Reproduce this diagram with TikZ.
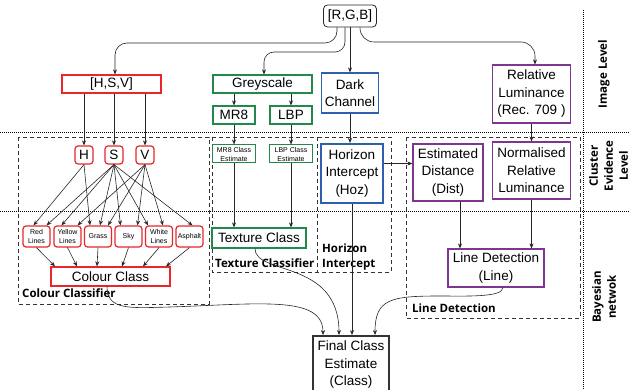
\documentclass[tikz,border=0pt]{standalone}
\usepackage{fontspec}
\setmainfont{Liberation Sans}
\newfontfamily\lblfont{Open Sans}
\usetikzlibrary{arrows.meta}
\definecolor{clred}{HTML}{E8262B}
\definecolor{clgreen}{HTML}{23894A}
\definecolor{clblue}{HTML}{2F5FAE}
\definecolor{clpurple}{HTML}{7E3693}
\tikzset{
  every node/.style={inner sep=0pt, align=center, font=\fontsize{13.5}{17.5}\selectfont},
  arr/.style={draw=black!85, line width=0.6pt, -{Stealth[length=5pt,width=4pt]}},
  levelsep/.style={draw=black, line width=0.9pt, dash pattern=on 1pt off 1pt},
  cluster/.style={draw=black!80, line width=0.8pt, dash pattern=on 4pt off 3pt},
  clusterlbl/.style={font=\lblfont\bfseries\fontsize{11.5}{15}\selectfont, align=left},
  levellbl/.style={font=\lblfont\bfseries\fontsize{11.5}{15}\selectfont, rotate=90},
  redbox/.style={draw=clred, line width=1.2pt},
  redround/.style={redbox, rounded corners=3pt},
  classbox/.style={redround, minimum width=27pt, minimum height=21pt, font=\fontsize{7}{9}\selectfont},
  greenbox/.style={draw=clgreen, line width=1.2pt},
  smallgreen/.style={greenbox, line width=1pt, minimum width=43pt, minimum height=18pt, font=\fontsize{7}{9}\selectfont},
  bluebox/.style={draw=clblue, line width=1.2pt},
  purplebox/.style={draw=clpurple, line width=1.2pt}
}
\begin{document}
\begin{tikzpicture}[x=1pt,y=-1pt]
\useasboundingbox (0,0) rectangle (630,390);
\clip (0,0) rectangle (630,390);
% levels
\draw[levelsep] (0,132) -- (630,132);
\draw[levelsep] (0,211) -- (630,211);
\draw[levelsep] (583,10) -- (583,390);
\node[levellbl] (imglvl) at (604,74) {Image Level};
\node[levellbl] (evlvl) at (608.5,166) {Cluster\\Evidence\\Level};
\node[levellbl] (baylvl) at (604,297) {Bayesian\\netwok};
% clusters
\draw[cluster] (18,137) rectangle (209,304);
\draw[cluster] (212,137) rectangle (317,272);
\draw[cluster] (317,137) rectangle (391,272);
\draw[cluster] (406,137) rectangle (580,318);
\node[clusterlbl, anchor=west] (cclbl) at (22,293) {Colour Classifier};
\node[clusterlbl, anchor=west] (texlbl) at (215,263) {Texture Classifier};
\node[clusterlbl, anchor=west] (hozlbl) at (322,257) {Horizon\\Intercept};
\node[clusterlbl, anchor=west] (linelbl) at (412,308) {Line Detection};
% image level
\node[draw=black!85, line width=0.8pt, rounded corners=4pt, minimum width=53pt, minimum height=22pt] (rgb) at (350,16) {[R,G,B]};
\node[redbox, minimum width=99pt, minimum height=18pt] (hsv) at (111.5,84) {[H,S,V]};
\node[greenbox, minimum width=99pt, minimum height=18pt] (grey) at (262.5,84) {Greyscale};
\node[greenbox, minimum width=42pt, minimum height=18pt] (mr8) at (234,115) {MR8};
\node[greenbox, minimum width=42pt, minimum height=18pt] (lbp) at (291,115) {LBP};
\node[bluebox, minimum width=57pt, minimum height=40pt] (dark) at (350,93) {Dark\\Channel};
\node[purplebox, minimum width=78pt, minimum height=58pt] (rellum) at (531.5,94) {Relative\\Luminance\\(Rec. 709 )};
% cluster evidence level
\node[redround, minimum width=18pt, minimum height=18pt] (h) at (84,155) {H};
\node[redround, minimum width=18pt, minimum height=18pt] (s) at (114,155) {S};
\node[redround, minimum width=18pt, minimum height=18pt] (v) at (145,155) {V};
\node[smallgreen] (mr8e) at (234,154) {MR8 Class\\Estimate};
\node[smallgreen] (lbpe) at (291,154) {LBP Class\\Estimate};
\node[bluebox, line width=2pt, minimum width=62pt, minimum height=59pt] (hoz) at (352,173.5) {Horizon\\Intercept\\(Hoz)};
\node[purplebox, minimum width=70pt, minimum height=57pt] (dist) at (448,172.5) {Estimated\\Distance\\(Dist)};
\node[purplebox, minimum width=78pt, minimum height=57pt] (nrl) at (531.5,170.5) {Normalised\\Relative\\Luminance};
% bayesian network
\node[classbox] (red) at (36.5,236.5) {Red\\Lines};
\node[classbox] (yellow) at (67.5,236.5) {Yellow\\Lines};
\node[classbox] (grass) at (98,236.5) {Grass};
\node[classbox] (sky) at (128.5,236.5) {Sky};
\node[classbox] (white) at (159,236.5) {White\\Lines};
\node[classbox] (asphalt) at (189.5,236.5) {Asphalt};
\node[redbox, minimum width=119pt, minimum height=19pt] (cc) at (110.5,276.5) {Colour Class};
\node[greenbox, minimum width=94pt, minimum height=20pt] (tex) at (259,238) {Texture Class};
\node[purplebox, minimum width=96pt, minimum height=38pt] (linedet) at (496,268) {Line Detection\\(Line)};
\node[draw=black!80, line width=1.8pt, minimum width=76pt, minimum height=58pt] (fin) at (351,365) {Final Class\\Estimate\\(Class)};
\coordinate (hsvin) at ([xshift=3.5pt]hsv.north);
\coordinate (greyin) at ([xshift=1.5pt]grey.north);
\coordinate (lumin) at ([xshift=3.5pt]rellum.north);
\coordinate (bendA) at (0,43);
\coordinate (bendB) at (0,52);
\coordinate (bendC) at (0,42);
\coordinate (hozout) at ([yshift=10pt]hoz.east);
\coordinate (distout) at ([xshift=12pt]dist.south);
\coordinate (ccmid) at (170,307);
\coordinate (linemid) at (440,296);
\draw[arr, rounded corners=12pt] ([xshift=-13pt]rgb.south) |- (hsvin |- bendA) -- (hsvin);
\draw[arr, rounded corners=10pt] ([xshift=-5pt]rgb.south) |- (greyin |- bendB) -- (greyin);
\draw[arr] (rgb.south -| dark.north) -- (dark.north);
\draw[arr, rounded corners=14pt] ([xshift=10pt]rgb.south) |- (lumin |- bendC) -- (lumin);
\draw[arr] (h |- hsv.south) -- (h.north);
\draw[arr] (s |- hsv.south) -- (s.north);
\draw[arr] (v |- hsv.south) -- (v.north);
\draw[arr] (h.south) -- ([xshift=-3pt]red.north);
\draw[arr] (h.south) -- ([xshift=-8pt]grass.north);
\draw[arr] (s.south) -- ([xshift=10pt]red.north);
\draw[arr] (s.south) -- ([xshift=-6pt]yellow.north);
\draw[arr] (s.south) -- ([xshift=2pt]grass.north);
\draw[arr] (s.south) -- ([xshift=-8pt]sky.north);
\draw[arr] (s.south) -- ([xshift=-11pt]white.north);
\draw[arr] (s.south) -- ([xshift=3pt]asphalt.north);
\draw[arr] (v.south) -- ([xshift=10pt]yellow.north);
\draw[arr] (v.south) -- ([xshift=10pt]grass.north);
\draw[arr] (v.south) -- ([xshift=9pt]sky.north);
\draw[arr] (v.south) -- ([xshift=4pt]white.north);
\draw[arr] (red.south) -- ([xshift=-55.5pt]cc.north);
\draw[arr] (yellow.south) -- ([xshift=-33.5pt]cc.north);
\draw[arr] (grass.south) -- ([xshift=-13.5pt]cc.north);
\draw[arr] (sky.south) -- ([xshift=11.5pt]cc.north);
\draw[arr] (white.south) -- ([xshift=32.5pt]cc.north);
\draw[arr] (asphalt.south) -- ([xshift=55.5pt]cc.north);
\draw[arr] (grey.south -| mr8) -- (mr8.north);
\draw[arr] (grey.south -| lbp) -- (lbp.north);
\draw[arr] (mr8.south) -- (mr8e.north);
\draw[arr] (lbp.south) -- (lbpe.north);
\draw[arr] (mr8e.south) -- (mr8e.south |- tex.north);
\draw[arr] (lbpe.south) -- (lbpe.south |- tex.north);
\draw[arr] (dark.south) -- (dark.south |- hoz.north);
\draw[arr] (hozout) -- (hozout -| dist.west);
\draw[arr] (rellum.south) -- (nrl.north);
\draw[arr] (distout) -- (distout |- linedet.north);
\draw[arr] (nrl.south) -- (nrl.south |- linedet.north);
\draw[arr] ([xshift=-3.5pt]cc.south) .. controls +(0,24) and +(-40,1) .. (ccmid) .. controls +(90,-3) and +(0,-40) .. ([xshift=-28pt]fin.north);
\draw[arr] ([xshift=-4pt]tex.south) .. controls +(0,27) and +(0,-76) .. ([xshift=-12pt]fin.north);
\draw[arr] (hoz.south) -- (hoz.south |- fin.north);
\draw[arr] ([xshift=7pt]linedet.south) .. controls +(0,10) and +(25,0) .. (linemid) .. controls +(-50,0) and +(0,-36) .. ([xshift=24pt]fin.north);
\end{tikzpicture}
\end{document}
